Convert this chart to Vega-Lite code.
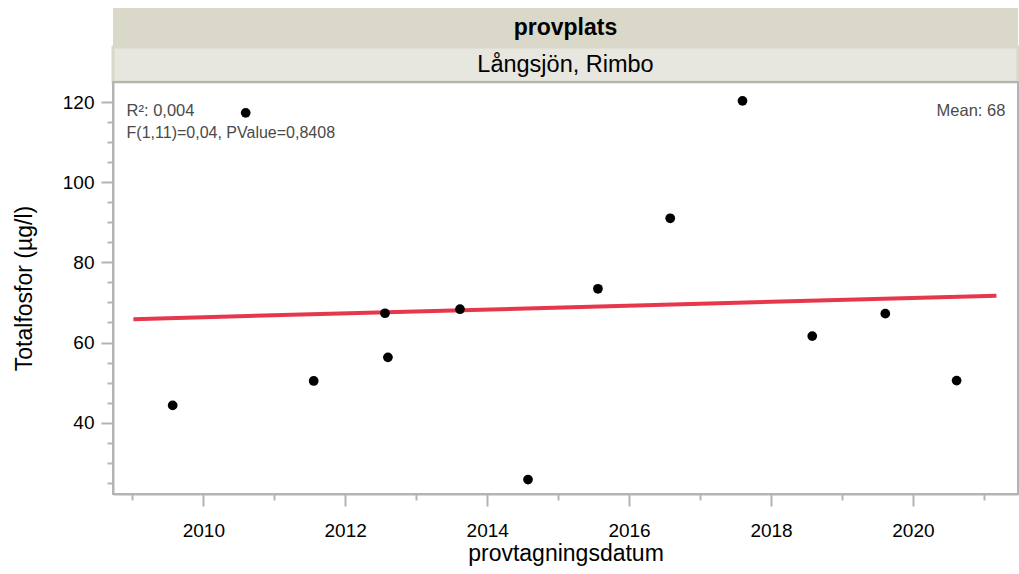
{
  "$schema": "https://vega.github.io/schema/vega-lite/v6.json",
  "background": "white",
  "padding": {"left": 12, "top": 8, "right": 2, "bottom": 4},
  "spacing": 0,
  "bounds": "flush",
  "config": {
    "font": "Liberation Sans",
    "view": {"stroke": null},
    "axis": {
      "grid": false,
      "domainColor": "#b4b4b4",
      "domainWidth": 2,
      "tickColor": "#b4b4b4",
      "tickWidth": 2,
      "labelFontSize": 19,
      "labelColor": "black",
      "labelOverlap": false,
      "titleFontSize": 23,
      "titleFontWeight": "normal",
      "titleColor": "black"
    }
  },
  "datasets": {
    "header1": [{"label": "provplats"}],
    "header2": [{"label": "Långsjön, Rimbo"}],
    "points": [
      {"date": "2009-07-27", "tp": 44.3},
      {"date": "2010-08-07", "tp": 117.3},
      {"date": "2011-07-23", "tp": 50.4},
      {"date": "2012-07-24", "tp": 67.3},
      {"date": "2012-08-08", "tp": 56.3},
      {"date": "2013-08-14", "tp": 68.3},
      {"date": "2014-07-30", "tp": 25.8},
      {"date": "2015-07-25", "tp": 73.4},
      {"date": "2016-07-31", "tp": 91.0},
      {"date": "2017-08-07", "tp": 120.3},
      {"date": "2018-08-01", "tp": 61.6},
      {"date": "2019-08-12", "tp": 67.2},
      {"date": "2020-08-13", "tp": 50.5}
    ],
    "fit": [
      {"date": "2009-01-06", "tp": 65.83},
      {"date": "2021-03-06", "tp": 71.67}
    ]
  },
  "vconcat": [
    {
      "width": 905,
      "height": 39,
      "data": {"name": "header1"},
      "view": {"fill": "#dad8c9", "stroke": null},
      "mark": {"type": "text", "fontSize": 23, "fontWeight": "bold", "baseline": "middle", "color": "black"},
      "encoding": {"text": {"field": "label"}}
    },
    {
      "width": 905,
      "height": 35,
      "data": {"name": "header2"},
      "view": {"fill": "#e7e7df", "stroke": "#dad8c9", "strokeWidth": 3},
      "mark": {"type": "text", "fontSize": 23.5, "baseline": "middle", "color": "black"},
      "encoding": {"text": {"field": "label"}}
    },
    {
      "width": 905,
      "height": 412,
      "view": {"stroke": "#b4b4b4", "strokeWidth": 2},
      "resolve": {"axis": {"x": "independent", "y": "independent"}},
      "layer": [
        {
          "data": {"name": "fit"},
          "mark": {"type": "line", "color": "#e8374d", "strokeWidth": 4, "strokeCap": "butt"},
          "encoding": {
            "x": {
              "field": "date",
              "type": "temporal",
              "scale": {
                "type": "utc",
                "domain": [
                  {"year": 2008, "month": 9, "date": 23, "utc": true},
                  {"year": 2021, "month": 6, "date": 25, "utc": true}
                ]
              },
              "axis": {
                "title": "provtagningsdatum",
                "values": [
                  {"year": 2009, "utc": true}, {"year": 2010, "utc": true}, {"year": 2011, "utc": true},
                  {"year": 2012, "utc": true}, {"year": 2013, "utc": true}, {"year": 2014, "utc": true},
                  {"year": 2015, "utc": true}, {"year": 2016, "utc": true}, {"year": 2017, "utc": true},
                  {"year": 2018, "utc": true}, {"year": 2019, "utc": true}, {"year": 2020, "utc": true},
                  {"year": 2021, "utc": true}
                ],
                "labelExpr": "utcyear(datum.value) % 2 == 0 ? utcFormat(datum.value, '%Y') : ''",
                "tickSize": {"condition": {"test": "utcyear(datum.value) % 2 == 0", "value": 12}, "value": 6},
                "labelPadding": 15,
                "labelFlush": false,
                "titlePadding": 2
              }
            },
            "y": {
              "field": "tp",
              "type": "quantitative",
              "scale": {"domain": [22.2, 125], "nice": false, "zero": false},
              "axis": {
                "title": "Totalfosfor (µg/l)",
                "values": [25, 30, 35, 40, 45, 50, 55, 60, 65, 70, 75, 80, 85, 90, 95, 100, 105, 110, 115, 120],
                "labelExpr": "datum.value % 20 == 0 ? datum.label : ''",
                "tickSize": {"condition": {"test": "datum.value % 20 == 0", "value": 12}, "value": 6},
                "labelPadding": 7,
                "titlePadding": 26
              }
            }
          }
        },
        {
          "data": {"name": "points"},
          "mark": {"type": "point", "filled": true, "color": "black", "opacity": 1, "size": 95},
          "encoding": {
            "x": {"field": "date", "type": "temporal", "axis": null},
            "y": {"field": "tp", "type": "quantitative", "axis": null}
          }
        },
        {
          "data": {"values": [{"label": "R²: 0,004"}]},
          "mark": {"type": "text", "align": "left", "baseline": "alphabetic", "fontSize": 16.5, "fill": "#4a4a4a"},
          "encoding": {
            "x": {"datum": {"year": 2008, "month": 12, "date": 2, "utc": true}, "type": "temporal", "axis": null},
            "y": {"datum": 116.6, "type": "quantitative", "axis": null},
            "text": {"field": "label", "type": "nominal"}
          }
        },
        {
          "data": {"values": [{"label": "F(1,11)=0,04, PValue=0,8408"}]},
          "mark": {"type": "text", "align": "left", "baseline": "alphabetic", "fontSize": 16, "fill": "#4a4a4a"},
          "encoding": {
            "x": {"datum": {"year": 2008, "month": 12, "date": 2, "utc": true}, "type": "temporal", "axis": null},
            "y": {"datum": 111.0, "type": "quantitative", "axis": null},
            "text": {"field": "label", "type": "nominal"}
          }
        },
        {
          "data": {"values": [{"label": "Mean: 68"}]},
          "mark": {"type": "text", "align": "right", "baseline": "alphabetic", "fontSize": 16.5, "fill": "#4a4a4a"},
          "encoding": {
            "x": {"datum": {"year": 2021, "month": 4, "date": 21, "utc": true}, "type": "temporal", "axis": null},
            "y": {"datum": 116.6, "type": "quantitative", "axis": null},
            "text": {"field": "label", "type": "nominal"}
          }
        }
      ]
    }
  ]
}
